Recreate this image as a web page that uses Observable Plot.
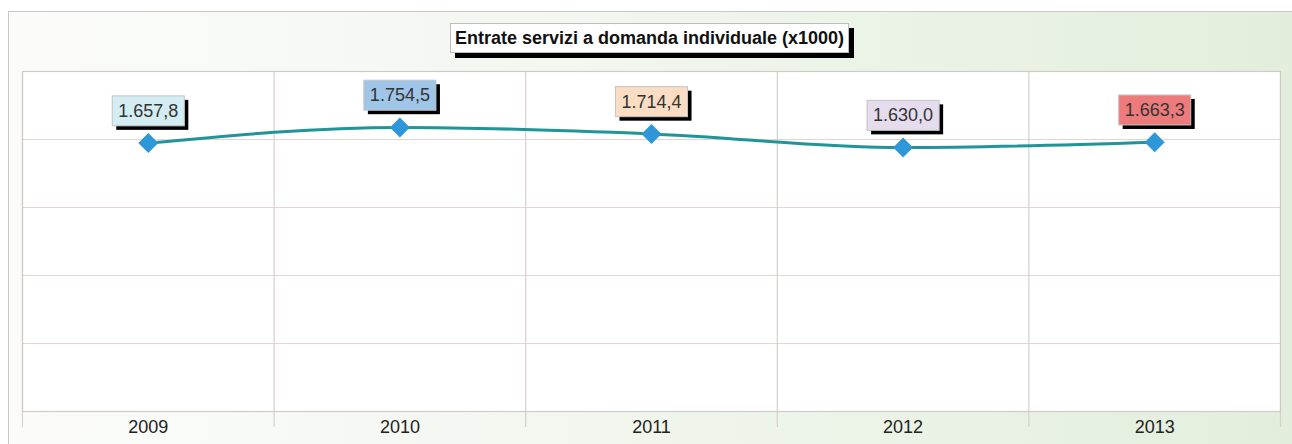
<!DOCTYPE html>
<html>
<head>
<meta charset="utf-8">
<script src="https://cdn.jsdelivr.net/npm/d3@7"></script>
<script src="https://cdn.jsdelivr.net/npm/@observablehq/plot@0.6"></script>
<style>
  html, body { margin: 0; padding: 0; background: #ffffff; }
  #wrap { position: relative; width: 1292px; height: 444px; overflow: hidden; }
  #bg { position: absolute; left: 8px; top: 11px; width: 1300px; height: 450px;
        border: 1px solid #c9c9c9; box-sizing: border-box;
        background: linear-gradient(to right, #fbfcfa 0%, #f3f7f0 40%, #e2eedb 100%); }
  #chart { position: absolute; left: 0; top: 0; }
  #title { position: absolute; left: 450px; top: 23px; width: 399px; height: 30px;
           box-sizing: border-box; border: 1px solid #bdbdbd; background: #ffffff;
           box-shadow: 5px 5px 0 #000; font: bold 18px "Liberation Sans", Arial, sans-serif;
           color: #111; text-align: center; line-height: 28px; white-space: nowrap; }
</style>
</head>
<body>
<div id="wrap">
  <div id="bg"></div>
  <div id="chart"></div>
  <div id="title">Entrate servizi a domanda individuale (x1000)</div>
</div>
<script>
const years = [2009, 2010, 2011, 2012, 2013];
const values = [1657.8, 1754.5, 1714.4, 1630.0, 1663.3];
const valueLabels = ["1.657,8", "1.754,5", "1.714,4", "1.630,0", "1.663,3"];
const yTicks = [0, 420, 840, 1260, 1680, 2100];

// styling (not data)
const boxColors = ["#d3edf3", "#9fc5e8", "#fcdcc2", "#e5dcee", "#ee7b7b"];

const data = years.map((year, i) => ({year, value: values[i], label: valueLabels[i]}));
const boundaries = [years[0] - 0.5, ...years.map(y => y + 0.5)];

const chart = Plot.plot({
  width: 1292,
  height: 444,
  marginLeft: 22,
  marginRight: 12,
  marginTop: 71,
  marginBottom: 33,
  style: {background: "transparent", fontFamily: "'Liberation Sans', Arial, sans-serif", fontSize: "18px", color: "#222"},
  x: {domain: [years[0] - 0.5, years[years.length - 1] + 0.5], ticks: years, tickFormat: "d", tickSize: 0, tickPadding: 9, label: null},
  y: {domain: [yTicks[0], yTicks[yTicks.length - 1]], axis: null},
  marks: [
    Plot.frame({fill: "white", stroke: "none"}),
    Plot.ruleY(yTicks, {stroke: "#e6d3d3", strokeWidth: 1.2}),
    Plot.ruleX(boundaries, {stroke: "#d9cfcf", strokeWidth: 1.2, insetBottom: -16}),
    Plot.frame({stroke: "#cfc9c9", strokeWidth: 1.2}),
    Plot.line(data, {x: "year", y: "value", curve: "monotone-x", stroke: "#1f959a", strokeWidth: 3}),
    Plot.dot(data, {x: "year", y: "value", symbol: "diamond2", r: 9, fill: "#2e97d8", stroke: "none"}),
    Plot.text(data, {x: "year", y: "value", text: "label", dy: -32, fill: "#333", fontSize: 18})
  ]
});

document.getElementById("chart").appendChild(chart);

// add label boxes with drop shadows behind each value label
const ns = "http://www.w3.org/2000/svg";
const labelGroup = chart.querySelector('g[aria-label="text"]');
if (labelGroup) {
  const boxes = document.createElementNS(ns, "g");
  labelGroup.parentNode.insertBefore(boxes, labelGroup);
  const parse = s => {
    const m = s && s.match(/translate\(\s*([-\d.e]+)[,\s]*([-\d.e]+)?\s*\)/);
    return m ? [+m[1], +(m[2] || 0)] : [0, 0];
  };
  const [gx, gy] = parse(labelGroup.getAttribute("transform"));
  labelGroup.querySelectorAll("text").forEach((t, i) => {
    const bb = t.getBBox();
    const [tx, ty] = parse(t.getAttribute("transform"));
    const padX = 6, padY = 5;
    const x = bb.x + tx + gx - padX;
    const y = bb.y + ty + gy - padY;
    const w = bb.width + 2 * padX;
    const h = bb.height + 2 * padY;
    const shadow = document.createElementNS(ns, "rect");
    shadow.setAttribute("x", x + 4); shadow.setAttribute("y", y + 4);
    shadow.setAttribute("width", w); shadow.setAttribute("height", h);
    shadow.setAttribute("fill", "#000");
    boxes.appendChild(shadow);
    const box = document.createElementNS(ns, "rect");
    box.setAttribute("x", x); box.setAttribute("y", y);
    box.setAttribute("width", w); box.setAttribute("height", h);
    box.setAttribute("fill", boxColors[i]);
    box.setAttribute("stroke", "#c4c4c4");
    boxes.appendChild(box);
  });
}
</script>
</body>
</html>
